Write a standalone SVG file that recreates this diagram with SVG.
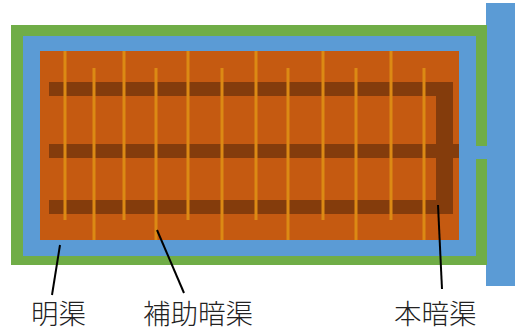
<svg xmlns="http://www.w3.org/2000/svg" width="515" height="329" viewBox="0 0 515 329">
<style>
.green{fill:#70ad47}.blue{fill:#5b9bd5}.field{fill:#c55a11}.drain{fill:#843c0c}
.sub{fill:none;stroke:#dc8a14;stroke-width:3}
.lead{stroke:#000;stroke-width:2;fill:none}
text{font-family:"Noto Sans CJK JP","Noto Sans CJK SC",sans-serif;font-size:27.5px;font-weight:300;fill:#222}
</style>
<rect width="515" height="329" fill="#fff"/>
<g id="river"><rect class="blue" x="486" y="3" width="29" height="283"/></g>
<g id="field-structure">
<rect class="green" x="11" y="25" width="476" height="240"/>
<rect class="blue" x="23" y="36" width="453" height="220"/>
<rect class="blue" x="459" y="146" width="28" height="13"/>
<rect class="field" x="40" y="51" width="419" height="189"/>
</g>
<g id="main-drain"><rect class="drain" x="436" y="82" width="17" height="132"/></g>
<g id="aux-drains">
<rect class="drain" x="49" y="82" width="404" height="14"/>
<rect class="drain" x="49" y="144" width="410" height="14"/>
<rect class="drain" x="49" y="200" width="404" height="14"/>
</g>
<g id="sub-drains" class="sub">
<path d="M65 51V220M124 51V220M188 51V220M256 51V220M323 51V220M391 51V220"/>
<path d="M94 68V240M156 68V240M222 68V240M288 68V240M356 68V240M424 68V240"/>
</g>
<g id="connectors">
<path class="lead" d="M60 245L52 295"/>
<path class="lead" d="M157 230L184 293"/>
<path class="lead" d="M438 205L442 289"/>
</g>
<g id="label-meikyo"><text x="31" y="324">明渠</text></g>
<g id="label-hojo"><text x="143" y="324">補助暗渠</text></g>
<g id="label-hon"><text x="394" y="324">本暗渠</text></g>
</svg>
